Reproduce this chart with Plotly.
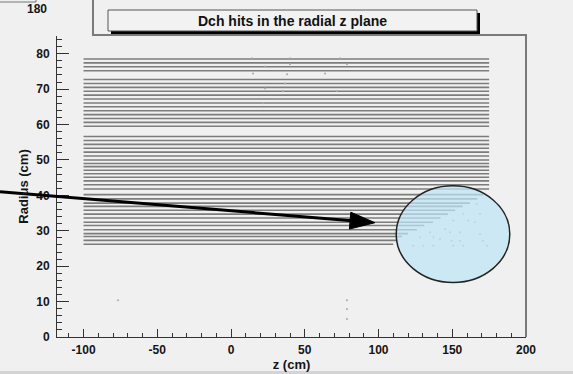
import math
import plotly.graph_objects as go

# ---- data ----
layer_radius = [78.5, 77.4, 76.3, 75.2,
                72.7, 71.6, 70.5, 69.4, 68.3, 67.2, 66.1, 65.0, 63.9, 62.8, 61.7, 60.6, 59.5,
                56.6, 55.5, 54.4, 53.3, 52.2, 51.1, 50.0, 49.0, 48.1, 47.1,
                46.1, 45.1, 44.1, 43.0, 41.8, 40.2, 39.0, 37.8, 36.9, 35.8, 34.7,
                33.6, 32.4, 31.5, 30.3, 29.2, 28.4, 27.3, 26.2]
layer_z_start = [-100] * len(layer_radius)
layer_z_end = [175, 175, 175, 175,
               175, 175, 175, 175, 175, 175, 175, 175, 175, 175, 175, 175, 175,
               175, 175, 175, 175, 175, 175, 175, 175, 175, 175,
               175, 175, 175, 175, 175, 171, 167, 162, 157, 152, 147,
               142, 137, 131, 126, 120, 116, 113, 110]

hit_z = [14.2, 14.9, 23.1, 23.1, 21.7, 40.0, 40.0, 38.0, 36.6, 35.3, 63.7, 71.9, 73.9, 78.6,
         78.6, 78.6, 78.6, -76.6,
         166.6, 168.8, 165.4, 157.5, 160.9, 150.7, 145.1, 148.5, 155.3, 168.8, 135.0, 128.1,
         137.2, 141.7, 155.3, 149.6, 170.7, 123.6, 130.4, 137.2, 150.7, 157.5, 173.5]
hit_r = [78.7, 74.4, 76.4, 70.2, 66.0, 78.7, 77.0, 74.2, 71.6, 69.4, 74.4, 69.4, 78.7, 77.0,
         10.4, 7.9, 5.1, 10.4,
         37.6, 34.8, 32.4, 34.8, 32.9, 32.9, 30.5, 29.6, 29.6, 29.1, 29.6, 28.2,
         28.2, 27.7, 27.2, 27.2, 27.2, 25.8, 25.8, 25.8, 25.8, 25.8, 25.8]

x_tickvals = [-100, -50, 0, 50, 100, 150, 200]
x_ticktext = ["-100", "-50", "0", "50", "100", "150", "200"]
y_tickvals = [0, 10, 20, 30, 40, 50, 60, 70, 80]
y_ticktext = ["0", "10", "20", "30", "40", "50", "60", "70", "80"]
x_range = [-118, 200]
y_range = [0, 85]
title_text = "Dch hits in the radial z plane"
x_title = "z (cm)"
y_title = "Radius (cm)"

# ---- figure geometry ----
W, H = 573, 374
ML, MR, MT, MB = 57, 47, 36, 37
PW, PH = W - ML - MR, H - MT - MB


def px(xp):
    return (xp - ML) / PW


def py(yp):
    return (H - MB - yp) / PH


BG = "#f0f0f0"

lx, ly = [], []
for r, z0, z1 in zip(layer_radius, layer_z_start, layer_z_end):
    lx += [z0, z1, None]
    ly += [r, r, None]

fig = go.Figure()
fig.add_trace(go.Scatter(x=lx, y=ly, mode="lines",
                         line=dict(color="#7c7c7c", width=1.6),
                         hoverinfo="skip", showlegend=False))
fig.add_trace(go.Scatter(x=hit_z, y=hit_r, mode="markers",
                         marker=dict(color="#a8a8a8", size=2),
                         hoverinfo="skip", showlegend=False))

FONT = "Liberation Sans, Arial, sans-serif"
font_t = dict(family=FONT, size=12, color="#151515", weight="bold")
font_a = dict(family=FONT, size=13, color="#151515", weight="bold")

fig.update_layout(
    width=W, height=H,
    margin=dict(l=ML, r=MR, t=MT, b=MB, autoexpand=False),
    paper_bgcolor=BG, plot_bgcolor=BG,
    showlegend=False,
    xaxis=dict(range=x_range, showgrid=False, zeroline=False, automargin=False,
               showline=True, linecolor="#333333", linewidth=1,
               ticks="inside", ticklen=8, tickwidth=1, tickcolor="#333333",
               tickmode="array", tickvals=x_tickvals, ticktext=x_ticktext,
               minor=dict(tickmode="linear", tick0=0, dtick=10, ticks="inside", ticklen=4,
                          tickcolor="#333333", tickwidth=1),
               tickfont=font_t, ticklabelstandoff=2,
               title=dict(text=x_title, font=font_a, standoff=1)),
    yaxis=dict(range=y_range, showgrid=False, zeroline=False, automargin=False,
               showline=True, linecolor="#333333", linewidth=1,
               ticks="inside", ticklen=12, tickwidth=1, tickcolor="#333333",
               tickmode="array", tickvals=y_tickvals, ticktext=y_ticktext,
               minor=dict(tickmode="linear", tick0=0, dtick=2, ticks="inside", ticklen=5,
                          tickcolor="#333333", tickwidth=1),
               tickfont=font_t, ticklabelstandoff=4,
               title=dict(text=y_title, font=font_a, standoff=4)),
)

shapes = []
shapes.append(dict(type="path", xref="paper", yref="paper",
                   path=f"M{px(93)},{py(0)} L{px(93)},{py(35)} L{px(526)},{py(35)} L{px(526)},{py(337)}",
                   line=dict(color="#7a7a7a", width=2), layer="above"))
shapes.append(dict(type="path", xref="paper", yref="paper",
                   path=f"M{px(0)},{py(2)} L{px(36)},{py(2)} L{px(36)},{py(-2)}",
                   line=dict(color="#777777", width=1), layer="above"))
shapes.append(dict(type="rect", xref="paper", yref="paper",
                   x0=px(0), x1=px(W), y0=py(371), y1=py(H + 2),
                   fillcolor="#d4d4d4", line=dict(width=0), layer="above"))
shapes.append(dict(type="rect", xref="paper", yref="paper",
                   x0=px(111), x1=px(480), y0=py(34), y1=py(13),
                   fillcolor="#000000", line=dict(width=0), layer="above"))
shapes.append(dict(type="rect", xref="paper", yref="paper",
                   x0=px(108), x1=px(477), y0=py(31), y1=py(10),
                   fillcolor="#f2f2f2", line=dict(color="#555555", width=1), layer="above"))
shapes.append(dict(type="circle", xref="x", yref="y",
                   x0=112, x1=189, y0=15.4, y1=42.7,
                   fillcolor="rgba(190,229,247,0.72)",
                   line=dict(color="#222222", width=1.5), layer="above"))

tail = (0, 191.7)
tip = (375, 222.7)
head_len, head_half = 25, 8.5
dx, dy = tip[0] - tail[0], tip[1] - tail[1]
L = math.hypot(dx, dy)
ux, uy = dx / L, dy / L
nx, ny = -uy, ux
bx, by = tip[0] - head_len * ux, tip[1] - head_len * uy
shapes.append(dict(type="line", xref="paper", yref="paper",
                   x0=px(tail[0]), y0=py(tail[1]), x1=px(bx + 2 * ux), y1=py(by + 2 * uy),
                   line=dict(color="#000000", width=3), layer="above"))
p1 = (bx + head_half * nx, by + head_half * ny)
p2 = (bx - head_half * nx, by - head_half * ny)
shapes.append(dict(type="path", xref="paper", yref="paper",
                   path=f"M{px(tip[0])},{py(tip[1])} L{px(p1[0])},{py(p1[1])} L{px(p2[0])},{py(p2[1])} Z",
                   fillcolor="#000000", line=dict(color="#000000", width=1), layer="above"))
fig.update_layout(shapes=shapes)

annotations = [
    dict(text=title_text, xref="paper", yref="paper", x=px(292), y=py(21),
         showarrow=False, font=dict(family=FONT, size=14, color="#111111", weight="bold"),
         xanchor="center", yanchor="middle"),
    dict(text="180", xref="paper", yref="paper", x=px(37), y=py(9),
         showarrow=False, font=font_t, xanchor="center", yanchor="middle"),
]
fig.update_layout(annotations=annotations)

fig.write_html("out.html")
